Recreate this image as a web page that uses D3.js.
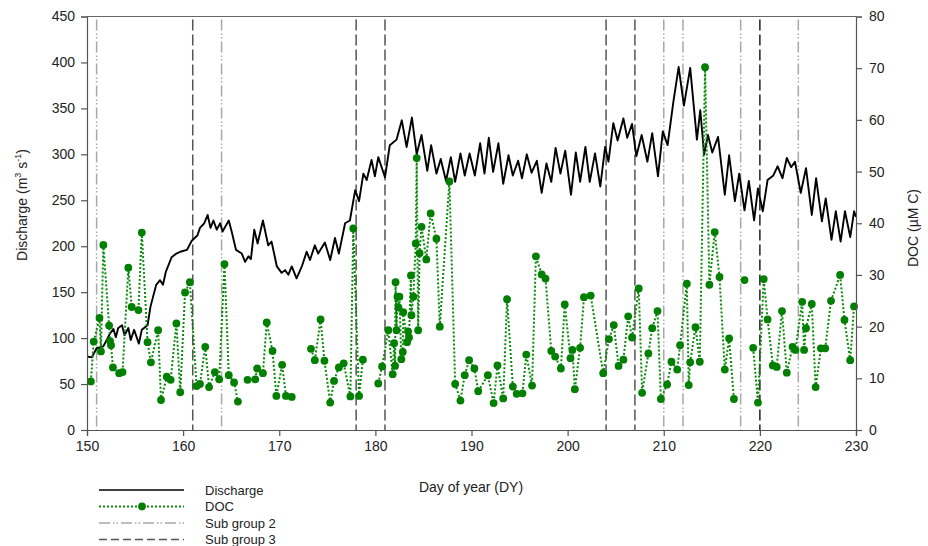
<!DOCTYPE html>
<html>

<head>
    <title>Discharge and DOC</title>
    <script src="https://d3js.org/d3.v7.min.js"></script>
    <style>
        body { margin: 0; background: #fff; }
        text { font-family: "Liberation Sans", Arial, sans-serif; fill: #222; }
        .axis path, .axis line { stroke: #555; stroke-width: 1.2; }
        .axis text { font-size: 14px; fill: #222; }
    </style>
</head>

<body>
    <div id="chart"></div>
    <script>
        // Discharge (m3 s-1), peaks and troughs
        var qDay = [150.0, 150.5, 151.0, 151.7, 152.4, 152.75, 153.0, 153.25, 153.65, 153.9, 154.3, 154.55, 154.9, 155.4, 155.7,
            156.3, 156.6, 157.2, 157.6, 157.9, 158.2, 158.8, 159.3, 159.7, 160.4, 160.9, 161.5, 161.75, 162.2, 162.55, 162.85,
            163.15, 163.5, 163.85, 164.1, 164.75, 165.05, 165.5, 166.1, 166.45, 166.8, 167.05, 167.4, 167.75, 168.3, 168.85,
            169.2, 169.75, 170.25, 170.6, 170.95, 171.3, 171.8, 172.35, 172.85, 173.2, 173.7, 174.05, 174.75, 175.3, 175.8,
            176.2, 176.85, 177.35, 177.9, 178.3, 178.75, 179.1, 179.6, 179.95, 180.3, 181.0, 181.5, 182.2, 182.75, 183.25,
            183.8, 184.3, 184.8, 185.4, 185.8, 186.35, 186.8, 187.35, 187.85, 188.3, 188.85, 189.3, 189.8, 190.35, 190.9,
            191.35, 191.8, 192.25, 192.8, 193.3, 193.85, 194.3, 194.85, 195.25, 195.75, 196.25, 196.8, 197.3, 197.8, 198.3,
            198.75, 199.25, 199.75, 200.35, 200.85, 201.3, 201.85, 202.3, 202.85, 203.4, 203.9, 204.25, 204.75, 205.2, 205.8,
            206.2, 206.7, 207.15, 207.7, 208.3, 208.8, 209.4, 209.9, 210.4, 211.0, 211.55, 212.1, 212.75, 213.45, 213.8,
            214.2, 214.6, 215.05, 215.65, 216.35, 216.8, 217.4, 217.85, 218.4, 218.85, 219.4, 219.8, 220.3, 220.8, 221.4,
            221.85, 222.35, 222.8, 223.25, 223.65, 224.25, 224.8, 225.4, 225.85, 226.45, 226.85, 227.45, 227.9, 228.4,
            228.85, 229.4, 229.8, 230.0];
        var qVal = [80, 79, 89, 91, 105, 110, 101, 111, 114, 103, 111, 98, 109, 94, 109,
            114, 134, 158, 163, 158, 172, 188, 192, 194, 196, 206, 212, 220, 225, 234, 220,
            228, 218, 225, 216, 228, 216, 196, 192, 183, 189, 186, 218, 203, 228, 201,
            205, 178, 171, 174, 169, 178, 165, 178, 194, 185, 201, 192, 204, 185, 209,
            192, 225, 228, 261, 249, 279, 272, 294, 276, 297, 275, 310, 316, 337, 308,
            340, 300, 321, 282, 310, 279, 295, 271, 297, 270, 301, 277, 301, 277, 312,
            279, 318, 281, 312, 268, 299, 277, 293, 274, 300, 280, 293, 258, 290, 270,
            307, 279, 304, 256, 302, 270, 308, 270, 301, 265, 308, 292, 334, 315, 339,
            318, 333, 298, 321, 292, 323, 276, 325, 310, 357, 395, 353, 394, 316, 348,
            300, 321, 302, 319, 256, 299, 249, 279, 239, 271, 228, 263, 238, 272, 277,
            287, 274, 296, 286, 292, 258, 285, 234, 274, 227, 252, 207, 238, 205,
            238, 210, 238, 232];

        // DOC (uM C) samples; null marks a break in the dotted line
        var docDay = [150.4, 150.7, 151.3, 151.45, 151.7, 152.3, 152.4, 152.5, 152.7, 153.35, 153.7, 154.3, 154.65, 155.35,
            155.7, 156.3, 156.65, 157.4, 157.7, 158.3, 158.7, 159.3, 159.7, 160.2, 160.7, 161.4, 161.75, 162.3, 162.7, 163.3,
            163.75, 164.3, 164.75, 165.3, 165.7, null, 166.7, 167.5, 167.7, 168.3, 168.7, 169.3, 169.7, 170.3, 170.7, 171.3,
            null, 173.3, 173.7, 174.3, 174.7, 175.3, 175.7, 176.2, 176.7, 177.4, 177.7, 178.3, 178.7, null,
            180.3, 180.7, 181.35, 181.8, 181.95, 182.05, 182.1, 182.2, 182.3, 182.4, 182.5, 182.7, 182.85, 182.9, 183.3,
            183.4, 183.5, 183.7, 183.75, 183.95, 184.2, 184.3, 184.45, 184.6, 184.8, 185.3, 185.75, 186.35, 186.7, 187.7,
            188.3, 188.85, 189.3, 189.75, 190.3, 190.7, 191.7, 192.3, 192.7, 193.3, 193.7, 194.3, 194.7, 195.3, 195.7,
            196.3, 196.7, 197.3, 197.7, 198.3, 198.7, 199.3, 199.7, 200.3, 200.5, 200.75, 201.3, 201.7, 202.4, 203.7,
            204.3, 204.8, 205.3, 205.8, 206.3, 206.7, 207.4, 207.75, 208.4, 208.8, 209.35, 209.7, 210.35, 210.8, 211.4,
            211.7, 212.4, 212.6, 212.75, 213.3, 213.75, 214.3, 214.75, 215.3, 215.8, 216.35, 216.8, 217.3, null, 218.4,
            null, 219.3, 219.8, 220.4, 220.8, 221.35, 221.75, 222.3, 222.8, 223.4, 223.7, 224.4, 224.6, 224.8, 225.4,
            225.8, 226.35, 226.8, 227.4, 228.35, 228.8, 229.4, 229.8];
        var docVal = [9.4, 17.1, 21.7, 15.2, 35.8, 20.2, 17.2, 16.4, 12.1, 11.0, 11.2, 31.4, 23.8, 23.2,
            38.2, 17.0, 13.1, 19.3, 5.8, 10.3, 9.7, 20.6, 7.3, 26.6, 28.6, 8.5, 8.9, 16.1, 8.3, 11.2,
            9.8, 32.1, 10.6, 9.2, 5.5, null, 9.7, 9.8, 11.9, 11.0, 20.8, 15.3, 6.6, 12.6, 6.6, 6.4,
            null, 15.7, 13.5, 21.4, 13.4, 5.3, 9.5, 12.1, 12.9, 6.5, 39.0, 6.6, 13.6, null,
            9.0, 12.3, 19.3, 10.8, 16.8, 12.4, 28.6, 19.3, 25.8, 23.7, 25.8, 13.7, 15.1, 22.8, 17.0,
            19.1, 17.9, 29.9, 22.2, 25.8, 36.1, 52.6, 19.3, 34.2, 39.3, 33.0, 41.9, 37.0, 20.0, 48.1,
            8.9, 5.7, 10.6, 13.5, 11.9, 7.5, 10.6, 5.2, 12.5, 6.1, 25.3, 8.4, 7.0, 7.1, 14.6,
            8.6, 33.6, 30.1, 29.3, 15.3, 14.2, 11.9, 24.3, 13.9, 15.5, 7.9, 15.9, 25.7, 26.0, 11.0,
            17.6, 20.3, 12.4, 13.6, 22.0, 17.9, 27.4, 7.2, 14.8, 19.7, 23.0, 6.0, 8.8, 13.2, 11.7,
            16.4, 28.3, 8.7, 13.1, 19.9, 13.2, 70.2, 28.1, 38.3, 29.6, 11.7, 17.7, 6.0, null, 29.0,
            null, 15.9, 5.3, 29.2, 21.4, 12.5, 12.2, 23.0, 11.1, 16.1, 15.5, 24.8, 15.5, 19.7, 24.4,
            8.3, 15.8, 15.8, 25.0, 30.0, 21.3, 13.5, 23.9];

        // sampling sub groups (vertical marker lines)
        var subGroup2 = [151, 164, 210, 212, 218, 224];
        var subGroup3 = [161, 178, 181, 204, 207, 220];

        var xTicks = d3.range(150, 231, 10);
        var qTicks = d3.range(0, 451, 50);
        var docTicks = d3.range(0, 81, 10);

        var margin = { top: 16.5, right: 72, bottom: 116, left: 87 },
            width = 928 - margin.left - margin.right,
            height = 546 - margin.top - margin.bottom;

        var svg = d3.select("#chart").append("svg")
            .attr("width", 928)
            .attr("height", 546);
        var g = svg.append("g")
            .attr("transform", "translate(" + margin.left + "," + margin.top + ")");

        var x = d3.scaleLinear().domain([150, 230]).range([0, width]);
        var yQ = d3.scaleLinear().domain([0, 450]).range([height, 0]);
        var yD = d3.scaleLinear().domain([0, 80]).range([height, 0]);

        // vertical sub group lines
        g.selectAll(".sg2")
            .data(subGroup2).enter().append("line")
            .attr("x1", function (d) { return x(d); })
            .attr("x2", function (d) { return x(d); })
            .attr("y1", 3).attr("y2", height)
            .style("stroke", "#a8a8a8")
            .style("stroke-width", 1.5)
            .style("stroke-dasharray", "11,3,1.5,2,1.5,3");
        g.selectAll(".sg3")
            .data(subGroup3).enter().append("line")
            .attr("x1", function (d) { return x(d); })
            .attr("x2", function (d) { return x(d); })
            .attr("y1", 3).attr("y2", height)
            .style("stroke", function (d) { return d == 220 ? "#222" : "#555"; })
            .style("stroke-width", 1.5)
            .style("stroke-dasharray", "11,4");

        // discharge line
        var qLine = d3.line()
            .x(function (d) { return x(d[0]); })
            .y(function (d) { return yQ(d[1]); });
        g.append("path")
            .datum(qDay.map(function (d, i) { return [d, qVal[i]]; }))
            .attr("d", qLine)
            .style("fill", "none")
            .style("stroke", "#000")
            .style("stroke-width", 1.9)
            .style("stroke-linejoin", "round");

        // DOC dotted line and points
        var docData = docDay.map(function (d, i) { return [d, docVal[i]]; });
        var docLine = d3.line()
            .defined(function (d) { return d[1] != null; })
            .x(function (d) { return x(d[0]); })
            .y(function (d) { return yD(d[1]); });
        g.append("path")
            .datum(docData)
            .attr("d", docLine)
            .style("fill", "none")
            .style("stroke", "#0a8a0a")
            .style("stroke-width", 2)
            .style("stroke-dasharray", "2,2");
        g.selectAll(".doc")
            .data(docData.filter(function (d) { return d[1] != null; }))
            .enter().append("circle")
            .attr("cx", function (d) { return x(d[0]); })
            .attr("cy", function (d) { return yD(d[1]); })
            .attr("r", 3.9)
            .style("fill", "#007f00");

        // axes
        g.append("g").attr("class", "axis")
            .attr("transform", "translate(0," + height + ")")
            .call(d3.axisBottom(x).tickValues(xTicks).tickSizeOuter(0).tickSize(6).tickPadding(5));
        g.append("g").attr("class", "axis")
            .call(d3.axisLeft(yQ).tickValues(qTicks).tickSizeOuter(0).tickSize(6).tickPadding(6));
        g.append("g").attr("class", "axis")
            .attr("transform", "translate(" + width + ",0)")
            .call(d3.axisRight(yD).tickValues(docTicks).tickSizeOuter(0).tickSize(6).tickPadding(7));
        g.append("line")
            .attr("x1", 0).attr("x2", width).attr("y1", 0).attr("y2", 0)
            .style("stroke", "#666").style("stroke-width", 1.2);

        // axis titles
        var yt = svg.append("text")
            .attr("transform", "translate(27,205) rotate(-90)")
            .style("text-anchor", "middle")
            .style("font-size", "14px");
        yt.append("tspan").text("Discharge (m");
        yt.append("tspan").attr("dy", -6).style("font-size", "9px").text("3");
        yt.append("tspan").attr("dy", 6).text(" s");
        yt.append("tspan").attr("dy", -6).style("font-size", "9px").text("-1");
        yt.append("tspan").attr("dy", 6).text(")");

        svg.append("text")
            .attr("transform", "translate(918,228) rotate(-90)")
            .style("text-anchor", "middle")
            .style("font-size", "14px")
            .text("DOC (\u00b5M C)");

        svg.append("text")
            .attr("x", 471).attr("y", 492)
            .style("text-anchor", "middle")
            .style("font-size", "14px")
            .text("Day of year (DY)");

        // legend
        var legend = [
            { name: "Discharge", color: "#000", dash: null, w: 1.5 },
            { name: "DOC", color: "#0a8a0a", dash: "2,2", w: 2 },
            { name: "Sub group 2", color: "#a8a8a8", dash: "11,3,1.5,2,1.5,3", w: 1.5 },
            { name: "Sub group 3", color: "#555", dash: "8,4", w: 1.5 }
        ];
        var lg = svg.selectAll(".legend")
            .data(legend).enter().append("g")
            .attr("transform", function (d, i) { return "translate(99," + (490 + i * 16.5) + ")"; });
        lg.append("line")
            .attr("x1", 0).attr("x2", 85)
            .style("stroke", function (d) { return d.color; })
            .style("stroke-width", function (d) { return d.w; })
            .style("stroke-dasharray", function (d) { return d.dash; });
        lg.filter(function (d) { return d.name == "DOC"; })
            .append("circle").attr("cx", 43).attr("r", 3.9).style("fill", "#007f00");
        lg.append("text")
            .attr("x", 106).attr("dy", "0.35em")
            .style("font-size", "13px")
            .text(function (d) { return d.name; });
    </script>
</body>

</html>
